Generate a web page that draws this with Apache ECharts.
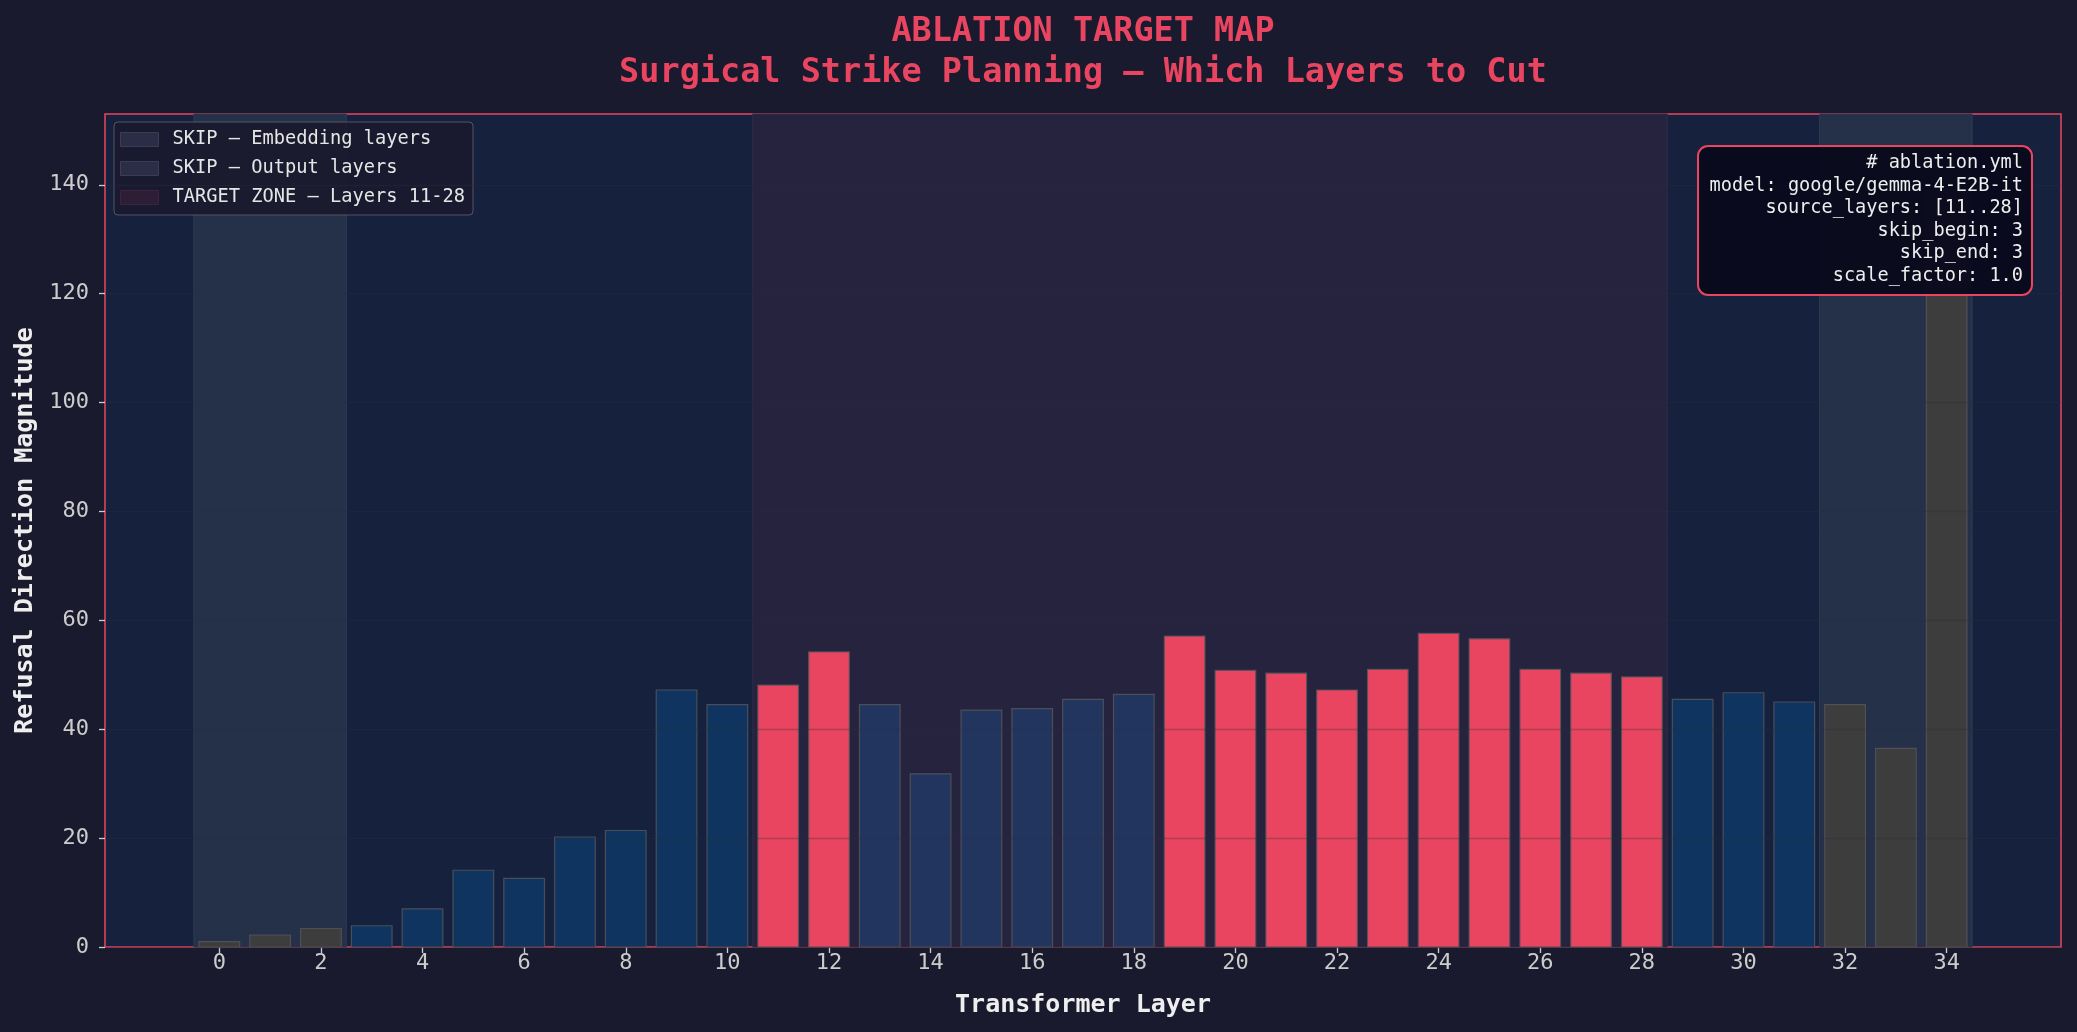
<!DOCTYPE html>
<html>
<head>
<meta charset="utf-8">
<script src="https://cdn.jsdelivr.net/npm/echarts@6/dist/echarts.min.js"></script>
<style>
html,body{margin:0;padding:0;background:#1a1a2e;}
#c{width:2077px;height:1032px;}
</style>
</head>
<body>
<div id="c"></div>
<script>
const layers = [0,1,2,3,4,5,6,7,8,9,10,11,12,13,14,15,16,17,18,19,20,21,22,23,24,25,26,27,28,29,30,31,32,33,34];
const magnitudes = [1.0,2.2,3.4,3.9,7.0,14.1,12.6,20.2,21.4,47.2,44.5,48.1,54.2,44.5,31.8,43.5,43.8,45.5,46.4,57.1,50.8,50.3,47.2,51.0,57.6,56.6,51.0,50.3,49.6,45.5,46.7,45.0,44.5,36.5,139.0];
const roles = ['skip','skip','skip','normal','normal','normal','normal','normal','normal','normal','normal',
  'target','target','muted','muted','muted','muted','muted','muted',
  'target','target','target','target','target','target','target','target','target','target',
  'normal','normal','normal','skip','skip','skip'];
const xTicks = [0,2,4,6,8,10,12,14,16,18,20,22,24,26,28,30,32,34];
const yTicks = [0,20,40,60,80,100,120,140];
const spanEmbedding = [[-0.5, 2.5]];
const spanOutput = [[31.5, 34.5]];
const spanTarget = [[10.5, 28.5]];
const configLines = ['# ablation.yml','model: google/gemma-4-E2B-it','source_layers: [11..28]','skip_begin: 3','skip_end: 3','scale_factor: 1.0'];

const roleColor = {skip:'#3d3d3d', normal:'#0f3460', muted:'#22355f', target:'#e94560'};
const FONT = '"DejaVu Sans Mono", monospace';

const chart = echarts.init(document.getElementById('c'), null, {renderer:'canvas'});

function spanSeries(name, data, fill, stroke) {
  return {
    name: name,
    type: 'custom',
    z: 1,
    silent: true,
    encode: {x: [0, 1]},
    data: data,
    itemStyle: {color: fill},
    renderItem: function (params, api) {
      const cs = params.coordSys;
      const a = api.coord([api.value(0), 0]);
      const b = api.coord([api.value(1), 0]);
      return {
        type: 'rect',
        shape: {x: a[0], y: cs.y, width: b[0] - a[0], height: cs.height},
        style: {fill: fill, stroke: stroke, lineWidth: 1}
      };
    }
  };
}

const barData = layers.map((l, i) => [l, magnitudes[i], roles[i]]);

const option = {
  backgroundColor: '#1a1a2e',
  animation: false,
  title: {
    text: 'ABLATION TARGET MAP\nSurgical Strike Planning — Which Layers to Cut',
    left: 1078,
    top: 7,
    textAlign: 'center',
    textStyle: {color:'#e94560', fontFamily: FONT, fontWeight:'bold', fontSize: 33.5, lineHeight: 41}
  },
  grid: {
    left: 105, right: 16, top: 114, bottom: 85,
    show: true, backgroundColor: '#16213e', borderColor: '#e94560', borderWidth: 1.5
  },
  legend: {
    orient: 'vertical',
    left: 114, top: 122,
    selectedMode: false,
    backgroundColor: 'rgba(26,26,46,0.92)',
    borderColor: '#555566', borderWidth: 1, borderRadius: 4,
    padding: [8, 8, 8, 6],
    itemWidth: 38, itemHeight: 14, itemGap: 10,
    icon: 'rect',
    textStyle: {color:'#e6e6e6', fontFamily: FONT, fontSize: 18.7, padding: [0, 0, 0, 9]},
    data: [
      {name:'SKIP — Embedding layers', itemStyle:{color:'#2a2d45', borderColor:'#3a3d55', borderWidth:1}},
      {name:'SKIP — Output layers', itemStyle:{color:'#2a2d45', borderColor:'#3a3d55', borderWidth:1}},
      {name:'TARGET ZONE — Layers 11-28', itemStyle:{color:'#2d1e36', borderColor:'#3d2542', borderWidth:1}}
    ]
  },
  xAxis: {
    type: 'value',
    min: -2.25, max: 36.25,
    name: 'Transformer Layer',
    nameLocation: 'middle',
    nameGap: 46,
    nameTextStyle: {color:'#eeeeee', fontFamily: FONT, fontWeight:'bold', fontSize: 25},
    axisLine: {show: false, onZero: false},
    axisTick: {show: true, length: 6, lineStyle:{color:'#cccccc', width: 1.3}, customValues: xTicks},
    axisLabel: {color:'#cccccc', fontFamily: FONT, fontSize: 22, margin: 5, customValues: xTicks},
    splitLine: {show: false}
  },
  yAxis: {
    type: 'value',
    min: 0, max: 153, interval: 20,
    z: 5,
    name: 'Refusal Direction Magnitude',
    nameLocation: 'middle',
    nameGap: 66,
    nameTextStyle: {color:'#eeeeee', fontFamily: FONT, fontWeight:'bold', fontSize: 25},
    axisLine: {show: false, onZero: false},
    axisTick: {show: true, length: 6, lineStyle:{color:'#cccccc', width: 1.3}, customValues: yTicks},
    axisLabel: {color:'#cccccc', fontFamily: FONT, fontSize: 22, margin: 16, customValues: yTicks},
    splitLine: {show: true, lineStyle: {color:'rgba(45,45,55,0.3)', width: 1.3}}
  },
  series: [
    spanSeries('SKIP — Embedding layers', spanEmbedding, '#253049', '#2f3a52'),
    spanSeries('SKIP — Output layers', spanOutput, '#253049', '#2f3a52'),
    spanSeries('TARGET ZONE — Layers 11-28', spanTarget, '#26233f', '#302a48'),
    {
      name: 'bars',
      type: 'custom',
      z: 2,
      encode: {x: 0, y: 1},
      data: barData,
      renderItem: function (params, api) {
        const x = api.value(0), v = api.value(1);
        const role = barData[params.dataIndex][2];
        const p0 = api.coord([x - 0.4, v]);
        const p1 = api.coord([x + 0.4, 0]);
        return {
          type: 'rect',
          shape: {x: p0[0], y: p0[1], width: p1[0] - p0[0], height: p1[1] - p0[1]},
          style: {fill: roleColor[role], stroke: 'rgba(85,85,90,0.85)', lineWidth: 1.2}
        };
      }
    }
  ],
  graphic: [
    {type:'rect', z: 100, zlevel: 1, shape:{x:1698, y:146, width:334, height:149, r:10},
     style:{fill:'rgba(10,10,28,0.95)', stroke:'#e94560', lineWidth:2}},
    {type:'text', z: 101, zlevel: 1, x:2023, y:152,
     style:{text: configLines.join('\n'), align:'right', verticalAlign:'top',
            fill:'#eeeeee', font:'18.6px "DejaVu Sans Mono", monospace', lineHeight: 22.5}}
  ]
};
chart.setOption(option);
</script>
</body>
</html>
